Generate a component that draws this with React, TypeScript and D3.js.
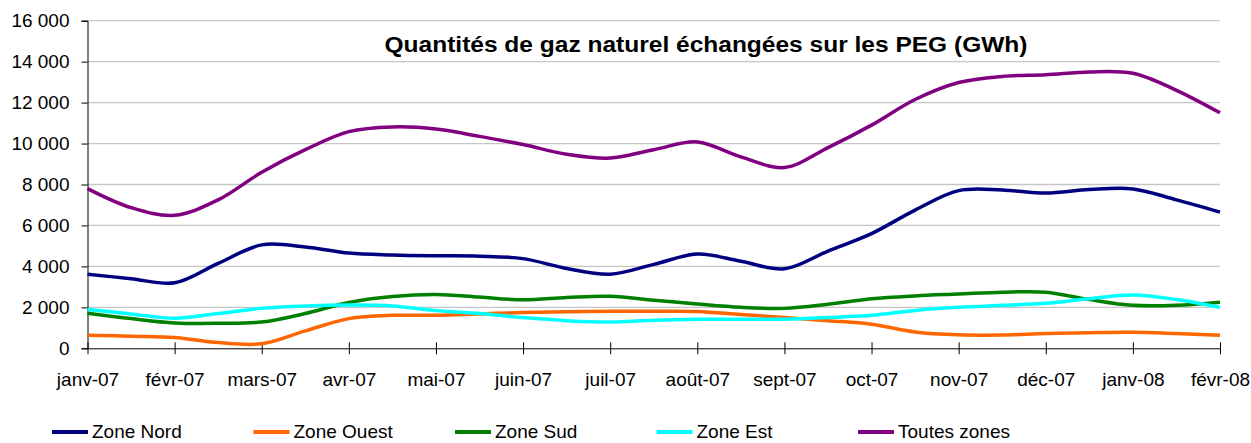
import * as d3 from "d3";
import { useRef, useEffect } from "react";

// month labels of the category axis
const months = [
  "janv-07", "févr-07", "mars-07", "avr-07", "mai-07", "juin-07", "juil-07",
  "août-07", "sept-07", "oct-07", "nov-07", "déc-07", "janv-08", "févr-08",
];

// values read every half month (GWh)
const zoneNord = [
  3620, 3400, 3200, 4150, 5050, 4950, 4650, 4560, 4520, 4500, 4380, 3900, 3620, 4100,
  4600, 4250, 3880, 4750, 5600, 6750, 7700, 7730, 7580, 7750, 7780, 7250, 6650,
];
const zoneOuest = [
  640, 590, 530, 280, 220, 850, 1450, 1610, 1610, 1680, 1750, 1790, 1810, 1810,
  1800, 1650, 1510, 1350, 1180, 800, 660, 650, 720, 760, 780, 720, 640,
];
const zoneSud = [
  1710, 1450, 1240, 1220, 1280, 1700, 2240, 2530, 2630, 2500, 2370, 2480, 2540, 2350,
  2160, 2000, 1950, 2150, 2420, 2560, 2650, 2740, 2740, 2380, 2100, 2100, 2250,
];
const zoneEst = [
  1900, 1680, 1470, 1700, 1950, 2070, 2110, 2070, 1840, 1700, 1500, 1350, 1280, 1370,
  1420, 1420, 1420, 1500, 1610, 1850, 2000, 2100, 2200, 2420, 2600, 2380, 2000,
];
const toutesZones = [
  7800, 6870, 6500, 7250, 8600, 9700, 10580, 10810, 10710, 10350, 9950, 9480, 9290, 9700,
  10080, 9350, 8830, 9800, 10900, 12150, 12980, 13280, 13360, 13500, 13430, 12600, 11500,
];

const yTicks = [0, 2000, 4000, 6000, 8000, 10000, 12000, 14000, 16000];

const series = [
  { name: "Zone Nord", values: zoneNord, color: "#000080" },
  { name: "Zone Ouest", values: zoneOuest, color: "#FF6600" },
  { name: "Zone Sud", values: zoneSud, color: "#008000" },
  { name: "Zone Est", values: zoneEst, color: "#00FFFF" },
  { name: "Toutes zones", values: toutesZones, color: "#800080" },
];

const width = 1251;
const height = 443;
const marginLeft = 87.5;
const marginRight = 31;
const marginTop = 20.7;
const marginBottom = 94.7;
const font = "Arial, 'Liberation Sans', sans-serif";

export default function App() {
  const svgRef = useRef<SVGSVGElement | null>(null);

  useEffect(() => {
    if (!svgRef.current) return;
    const svg = d3.select(svgRef.current);
    svg.selectAll("*").remove();

    const x = d3
      .scaleLinear()
      .domain([0, months.length - 1])
      .range([marginLeft, width - marginRight]);

    const y = d3
      .scaleLinear()
      .domain([0, 16000])
      .range([height - marginBottom, marginTop]);

    const fmt = (v: number) => d3.format(",")(v).replace(/,/g, " ");

    // gridlines
    svg
      .append("g")
      .selectAll("line")
      .data(yTicks.filter((t) => t > 0))
      .join("line")
      .attr("x1", x(0))
      .attr("x2", x(months.length - 1))
      .attr("y1", (d) => y(d))
      .attr("y2", (d) => y(d))
      .attr("stroke", "#c6c6c6")
      .attr("stroke-width", 1.3);

    // y axis
    const yAxis = svg
      .append("g")
      .attr("transform", `translate(${marginLeft},0)`)
      .call(d3.axisLeft(y).tickValues(yTicks).tickSize(6).tickPadding(12).tickFormat((d) => fmt(d as number)));
    yAxis.select(".domain").attr("stroke", "#000");
    yAxis.selectAll(".tick line").attr("stroke", "#000");
    yAxis
      .selectAll("text")
      .attr("font-family", font)
      .attr("font-size", 19)
      .attr("fill", "#000");

    // x axis (ticks crossing the axis)
    const xAxis = svg
      .append("g")
      .attr("transform", `translate(0,${height - marginBottom})`)
      .call(
        d3
          .axisBottom(x)
          .tickValues(d3.range(months.length))
          .tickSizeInner(6)
          .tickSizeOuter(0)
          .tickPadding(18)
          .tickFormat((d) => months[d as number])
      );
    xAxis.select(".domain").attr("stroke", "#000");
    xAxis.selectAll(".tick line").attr("stroke", "#000").attr("y1", -6);
    xAxis
      .selectAll("text")
      .attr("font-family", font)
      .attr("font-size", 19)
      .attr("fill", "#000");

    // lines
    const line = d3
      .line<number>()
      .x((_, i) => x(i / 2))
      .y((d) => y(d))
      .curve(d3.curveCatmullRom.alpha(0.5));

    series.forEach((s) => {
      svg
        .append("path")
        .datum(s.values)
        .attr("fill", "none")
        .attr("stroke", s.color)
        .attr("stroke-width", 3.5)
        .attr("stroke-linejoin", "round")
        .attr("d", line);
    });

    // title
    svg
      .append("text")
      .attr("x", 706)
      .attr("y", 52)
      .attr("text-anchor", "middle")
      .attr("font-family", font)
      .attr("font-weight", "bold")
      .attr("font-size", 22)
      .attr("textLength", 643)
      .attr("lengthAdjust", "spacingAndGlyphs")
      .attr("fill", "#000")
      .text("Quantités de gaz naturel échangées sur les PEG (GWh)");

    // legend
    const legend = svg.append("g").attr("transform", "translate(52,432)");
    series.forEach((s, i) => {
      const g = legend.append("g").attr("transform", `translate(${i * 201.5},0)`);
      g.append("line")
        .attr("x1", 0)
        .attr("x2", 36)
        .attr("stroke", s.color)
        .attr("stroke-width", 4);
      g.append("text")
        .attr("x", 40)
        .attr("y", 6)
        .attr("font-family", font)
        .attr("font-size", 19)
        .attr("fill", "#000")
        .text(s.name);
    });
  }, []);

  return (
    <svg
      ref={svgRef}
      width={width}
      height={height}
      style={{ position: "absolute", left: 0, top: 0, background: "#fff" }}
    ></svg>
  );
}
